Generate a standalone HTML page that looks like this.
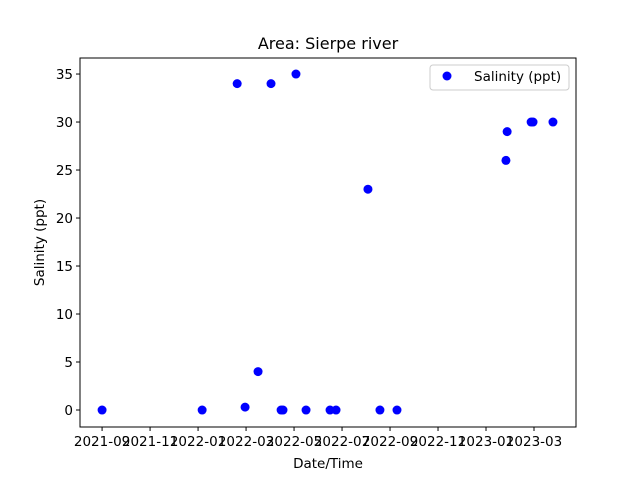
<!DOCTYPE html>
<html><head><meta charset="utf-8"><style>body{margin:0;background:#fff}svg text{font-family:"DejaVu Sans","Liberation Sans",sans-serif;fill:#000}</style></head>
<body>
<svg id="chart" width="640" height="480" xmlns="http://www.w3.org/2000/svg">
<rect width="640" height="480" fill="#fff"/>
<g id="plot"></g>
</svg>
<script>
const monthOffsets=[0,4.17,5.63,5.96,6.5,7.04,7.46,7.54,8.08,8.5,9.5,9.75,11.08,11.58,12.29,16.83,16.88,17.88,17.96,18.79];
const salinity=[0,0,34,0.3,4,34,0,0,35,0,0,0,23,0,0,26,29,30,30,30];
const xTickLabels=["2021-09","2021-11","2022-01","2022-03","2022-05","2022-07","2022-09","2022-11","2023-01","2023-03"];
const xTickValues=[0,2,4,6,8,10,12,14,16,18];
const yTickValues=[0,5,10,15,20,25,30,35];
const L=80,R=576,T=58,B=427,xMin=-0.92,xMax=19.75,yMin=-1.77,yMax=36.67;
const sx=v=>L+(v-xMin)/(xMax-xMin)*(R-L);
const sy=v=>B-(v-yMin)/(yMax-yMin)*(B-T);
const NS="http://www.w3.org/2000/svg",g=document.getElementById('plot');
function mk(t,a,txt){const e=document.createElementNS(NS,t);for(const k in a)e.setAttribute(k,a[k]);if(txt!==undefined)e.textContent=txt;g.appendChild(e);return e;}
salinity.forEach((v,i)=>{const c=mk('circle',{cx:sx(monthOffsets[i]),cy:sy(v),r:4.5,fill:'#0000ff'});

});
const fr=mk('rect',{x:L,y:T,width:R-L,height:B-T,fill:'none',stroke:'#000','stroke-width':1});


xTickValues.forEach((v,i)=>{const x=sx(v);mk('line',{x1:x,x2:x,y1:B,y2:B+4,stroke:'#000'});
const t=mk('text',{x:x,y:B+19,'font-size':13.5,'text-anchor':'middle'},xTickLabels[i]);

});
yTickValues.forEach(v=>{const y=sy(v);mk('line',{x1:L-4,x2:L,y1:y,y2:y,stroke:'#000'});
const t=mk('text',{x:L-7,y:y+5,'font-size':13.5,'text-anchor':'end'},String(v));

});
const xt=mk('text',{x:(L+R)/2,y:468,'font-size':13.5,'text-anchor':'middle'},'Date/Time');


const yt=mk('text',{x:0,y:0,'font-size':13.5,'text-anchor':'middle',transform:`translate(44,${(T+B)/2}) rotate(-90)`},'Salinity (ppt)');


const ti=mk('text',{x:(L+R)/2,y:49,'font-size':16,'text-anchor':'middle'},'Area: Sierpe river');


const lg=mk('rect',{x:430,y:65,width:139,height:25,rx:3,fill:'#fff',stroke:'#ccc'});


mk('circle',{cx:447,cy:76,r:4.5,fill:'#0000ff'});
const lt=mk('text',{x:474,y:81,'font-size':13.5},'Salinity (ppt)');


</script>
</body></html>
